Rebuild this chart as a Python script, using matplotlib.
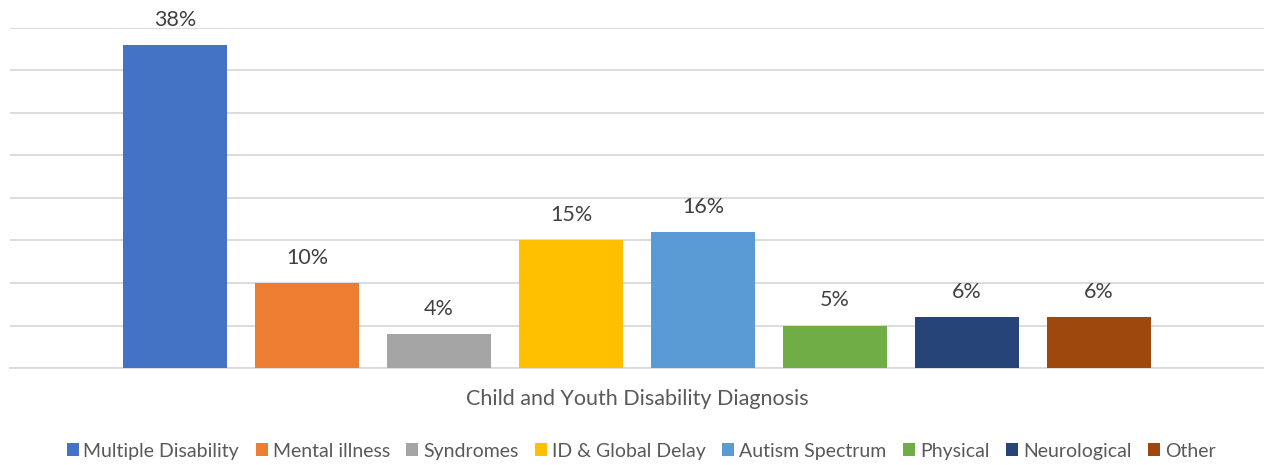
import matplotlib.pyplot as plt
from matplotlib.patches import Patch

# Data
categories = ["Multiple Disability", "Mental illness", "Syndromes", "ID & Global Delay",
              "Autism Spectrum", "Physical", "Neurological", "Other"]
values = [38, 10, 4, 15, 16, 5, 6, 6]
colors = ["#4472C4", "#ED7D31", "#A5A5A5", "#FFC000",
          "#5B9BD5", "#70AD47", "#264478", "#9E480E"]

plt.rcParams["font.family"] = ["Lato", "DejaVu Sans"]

fig = plt.figure(figsize=(12.64, 4.65), dpi=100)
ax = fig.add_axes([10 / 1264, 1 - 368 / 465, 1 - 10 / 1264, (368 - 28) / 465])

x = list(range(len(categories)))
bars = ax.bar(x, values, width=0.795, color=colors, zorder=3)

for b, v in zip(bars, values):
    ax.text(b.get_x() + b.get_width() / 2, v + 1.8, f"{v}%", ha="center", va="bottom",
            fontsize=15.5, color="#404040")

ax.set_xlim(-1.25, 8.25)
ax.set_ylim(0, 40)
ax.set_yticks(range(0, 41, 5))
ax.yaxis.grid(True, color="#D9D9D9", linewidth=1.3, zorder=0)
ax.tick_params(left=False, labelleft=False, bottom=False, labelbottom=False)
for s in ["top", "right", "left"]:
    ax.spines[s].set_visible(False)
ax.spines["bottom"].set_color("#D9D9D9")
ax.spines["bottom"].set_linewidth(1.3)

fig.text(637 / 1264, 1 - 399 / 465, "Child and Youth Disability Diagnosis", ha="center", va="center",
         fontsize=15.5, color="#595959")

handles = [Patch(facecolor=c, label=n) for c, n in zip(colors, categories)]
fig.legend(handles=handles, loc="center", bbox_to_anchor=(641 / 1264, 1 - 451 / 465), ncol=8,
           frameon=False, fontsize=14, labelcolor="#595959", handlelength=0.62, handleheight=0.62,
           handletextpad=0.25, columnspacing=0.85)

fig.savefig("out.png", dpi=100, facecolor="white")
